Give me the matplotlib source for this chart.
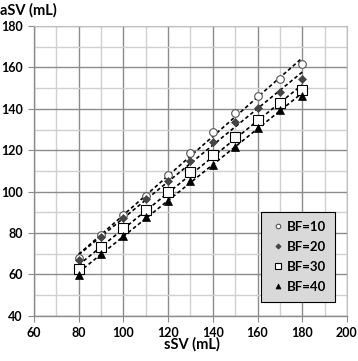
import numpy as np
import matplotlib.pyplot as plt

# sSV values (x) and aSV for each BF level
ssv = [80, 90, 100, 110, 120, 130, 140, 150, 160, 170, 180]
bf10 = [68, 79, 88.5, 98, 108, 118.6, 128.6, 137.9, 146.4, 154.3, 161.5]
bf20 = [67, 78, 87.5, 96.5, 105, 115, 124.2, 133.8, 140.6, 148, 154.4]
bf30 = [62.7, 73.2, 82.3, 91.2, 99.7, 109.3, 117.7, 126.6, 134.6, 143, 149]
bf40 = [59.8, 70, 78.6, 87.7, 95.7, 104.9, 112.9, 121.8, 130.6, 139.5, 146.4]
labels = ['BF=10', 'BF=20', 'BF=30', 'BF=40']

plt.rcParams['font.family'] = ['Lato', 'DejaVu Sans']
plt.rcParams['font.weight'] = 'bold'

fig = plt.figure(figsize=(3.58, 3.61), dpi=100)
ax = fig.add_axes([0.095, 0.125, 0.874, 0.803])

styles = [
    dict(marker='o', mfc='white', mec='#555555', ms=5.5, mew=0.8),
    dict(marker='D', mfc='#444444', mec='#444444', ms=4.5, mew=0.5),
    dict(marker='s', mfc='white', mec='black', ms=6.5, mew=0.8),
    dict(marker='^', mfc='black', mec='black', ms=6, mew=0.5),
]

x = np.array(ssv)
for y, lab, st in zip([bf10, bf20, bf30, bf40], labels, styles):
    ax.plot(x, y, ls='none', label=lab, zorder=3, **st)
    k, b = np.polyfit(x, y, 1)
    ax.plot(x, k * x + b, ls=(0, (2.2, 1.6)), color='black', lw=1.2, zorder=2)

ax.set_xlim(60, 200)
ax.set_ylim(40, 180)
ax.set_xticks(np.arange(60, 201, 20))
ax.set_yticks(np.arange(40, 181, 20))
ax.set_xticks(np.arange(70, 200, 20), minor=True)
ax.set_yticks(np.arange(50, 180, 20), minor=True)
ax.grid(True, which='major', color='#8c8c8c', lw=1.0)
ax.grid(True, which='minor', color='#d0d0d0', lw=1.0)
ax.set_axisbelow(True)

for s in ['top', 'right']:
    ax.spines[s].set_color('#bfbfbf')
for s in ['left', 'bottom']:
    ax.spines[s].set_color('#8c8c8c')
    ax.spines[s].set_linewidth(1.0)
ax.tick_params(which='major', length=4, color='#8c8c8c', labelsize=9, pad=4)
ax.tick_params(which='minor', length=0)

fig.text(0.0, 0.972, 'aSV (mL)', fontsize=10.5, fontweight='bold', va='center', ha='left')
fig.text(0.537, 0.045, 'sSV (mL)', fontsize=10.5, fontweight='bold', va='center', ha='center')

leg = ax.legend(loc='lower right', bbox_to_anchor=(0.962, 0.048), fancybox=False,
                framealpha=1, facecolor='#d9d9d9', edgecolor='black',
                markerscale=0.6, handletextpad=0.1, handlelength=1.1,
                labelspacing=0.6, borderpad=0.7, borderaxespad=0,
                fontsize=9.5)
leg.get_frame().set_linewidth(0.8)

fig.savefig('out.png', dpi=100)
